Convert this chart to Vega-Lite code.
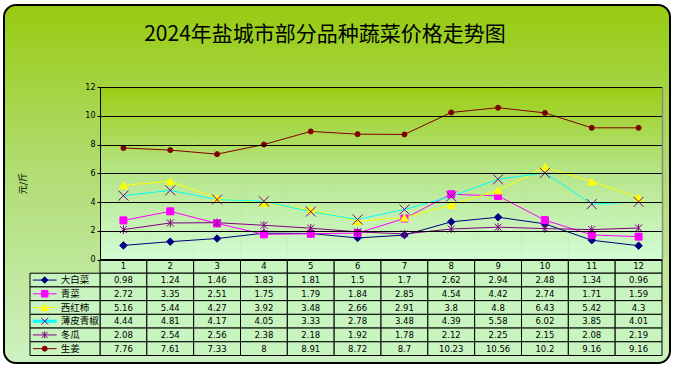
{
  "$schema": "https://vega.github.io/schema/vega-lite/v6.json",
  "width": 666,
  "height": 358,
  "autosize": {"type": "none"},
  "padding": {"left": 4, "top": 5, "right": 7, "bottom": 7},
  "background": "#ffffff",
  "view": {
    "fill": {"gradient": "linear", "x1": 0, "y1": 0, "x2": 0, "y2": 1,
      "stops": [{"offset": 0, "color": "#98cb10"}, {"offset": 0.45, "color": "#b0dc70"}, {"offset": 1, "color": "#cdf2c2"}]},
    "stroke": "#000000",
    "strokeWidth": 2,
    "cornerRadius": 12
  },
  "config": {"font": "Noto Sans CJK SC"},
  "title": {
    "text": "2024年盐城市部分品种蔬菜价格走势图",
    "font": "Noto Sans CJK SC",
    "fontSize": 21,
    "fontWeight": "normal",
    "color": "#000000",
    "anchor": "middle",
    "frame": "group",
    "orient": "top",
    "baseline": "middle",
    "offset": -51,
    "dx": -12
  },
  "datasets": {
    "months": [{"month": 1}, {"month": 2}, {"month": 3}, {"month": 4}, {"month": 5}, {"month": 6}, {"month": 7}, {"month": 8}, {"month": 9}, {"month": 10}, {"month": 11}, {"month": 12}],
    "series": [{"series": "大白菜"}, {"series": "青菜"}, {"series": "西红柿"}, {"series": "薄皮青椒"}, {"series": "冬瓜"}, {"series": "生姜"}],
    "vals": [
      {"series": "大白菜", "month": 1, "price": 0.98}, {"series": "大白菜", "month": 2, "price": 1.24}, {"series": "大白菜", "month": 3, "price": 1.46}, {"series": "大白菜", "month": 4, "price": 1.83}, {"series": "大白菜", "month": 5, "price": 1.81}, {"series": "大白菜", "month": 6, "price": 1.5}, {"series": "大白菜", "month": 7, "price": 1.7}, {"series": "大白菜", "month": 8, "price": 2.62}, {"series": "大白菜", "month": 9, "price": 2.94}, {"series": "大白菜", "month": 10, "price": 2.48}, {"series": "大白菜", "month": 11, "price": 1.34}, {"series": "大白菜", "month": 12, "price": 0.96},
      {"series": "青菜", "month": 1, "price": 2.72}, {"series": "青菜", "month": 2, "price": 3.35}, {"series": "青菜", "month": 3, "price": 2.51}, {"series": "青菜", "month": 4, "price": 1.75}, {"series": "青菜", "month": 5, "price": 1.79}, {"series": "青菜", "month": 6, "price": 1.84}, {"series": "青菜", "month": 7, "price": 2.85}, {"series": "青菜", "month": 8, "price": 4.54}, {"series": "青菜", "month": 9, "price": 4.42}, {"series": "青菜", "month": 10, "price": 2.74}, {"series": "青菜", "month": 11, "price": 1.71}, {"series": "青菜", "month": 12, "price": 1.59},
      {"series": "西红柿", "month": 1, "price": 5.16}, {"series": "西红柿", "month": 2, "price": 5.44}, {"series": "西红柿", "month": 3, "price": 4.27}, {"series": "西红柿", "month": 4, "price": 3.92}, {"series": "西红柿", "month": 5, "price": 3.48}, {"series": "西红柿", "month": 6, "price": 2.66}, {"series": "西红柿", "month": 7, "price": 2.91}, {"series": "西红柿", "month": 8, "price": 3.8}, {"series": "西红柿", "month": 9, "price": 4.8}, {"series": "西红柿", "month": 10, "price": 6.43}, {"series": "西红柿", "month": 11, "price": 5.42}, {"series": "西红柿", "month": 12, "price": 4.3},
      {"series": "薄皮青椒", "month": 1, "price": 4.44}, {"series": "薄皮青椒", "month": 2, "price": 4.81}, {"series": "薄皮青椒", "month": 3, "price": 4.17}, {"series": "薄皮青椒", "month": 4, "price": 4.05}, {"series": "薄皮青椒", "month": 5, "price": 3.33}, {"series": "薄皮青椒", "month": 6, "price": 2.78}, {"series": "薄皮青椒", "month": 7, "price": 3.48}, {"series": "薄皮青椒", "month": 8, "price": 4.39}, {"series": "薄皮青椒", "month": 9, "price": 5.58}, {"series": "薄皮青椒", "month": 10, "price": 6.02}, {"series": "薄皮青椒", "month": 11, "price": 3.85}, {"series": "薄皮青椒", "month": 12, "price": 4.01},
      {"series": "冬瓜", "month": 1, "price": 2.08}, {"series": "冬瓜", "month": 2, "price": 2.54}, {"series": "冬瓜", "month": 3, "price": 2.56}, {"series": "冬瓜", "month": 4, "price": 2.38}, {"series": "冬瓜", "month": 5, "price": 2.18}, {"series": "冬瓜", "month": 6, "price": 1.92}, {"series": "冬瓜", "month": 7, "price": 1.78}, {"series": "冬瓜", "month": 8, "price": 2.12}, {"series": "冬瓜", "month": 9, "price": 2.25}, {"series": "冬瓜", "month": 10, "price": 2.15}, {"series": "冬瓜", "month": 11, "price": 2.08}, {"series": "冬瓜", "month": 12, "price": 2.19},
      {"series": "生姜", "month": 1, "price": 7.76}, {"series": "生姜", "month": 2, "price": 7.61}, {"series": "生姜", "month": 3, "price": 7.33}, {"series": "生姜", "month": 4, "price": 8}, {"series": "生姜", "month": 5, "price": 8.91}, {"series": "生姜", "month": 6, "price": 8.72}, {"series": "生姜", "month": 7, "price": 8.7}, {"series": "生姜", "month": 8, "price": 10.23}, {"series": "生姜", "month": 9, "price": 10.56}, {"series": "生姜", "month": 10, "price": 10.2}, {"series": "生姜", "month": 11, "price": 9.16}, {"series": "生姜", "month": 12, "price": 9.16}
    ]
  },
  "resolve": {"scale": {"x": "independent", "y": "independent"}},
  "layer": [
    {
      "data": {"name": "months"},
      "mark": {"type": "rect", "strokeWidth": 0,
        "fill": {"gradient": "linear", "x1": 0, "y1": 0, "x2": 0, "y2": 1,
          "stops": [{"offset": 0, "color": "#9ccd12"}, {"offset": 0.5, "color": "#b6e58a"}, {"offset": 1, "color": "#d2fcd4"}]}},
      "encoding": {
        "x": {"field": "month", "type": "ordinal", "scale": {"type": "band", "domain": [1,2,3,4,5,6,7,8,9,10,11,12], "range": [96, 658], "paddingInner": 0, "paddingOuter": 0}, "axis": null},
        "y": {"datum": 12, "type": "quantitative", "scale": {"domain": [0, 12], "range": [254.5, 82], "nice": false, "zero": false}, "axis": null},
        "y2": {"datum": 0}
      }
    },
    {
      "data": {"name": "vals"},
      "mark": {"type": "line", "strokeWidth": 1},
      "encoding": {
        "x": {"field": "month", "type": "ordinal", "scale": {"type": "band", "domain": [1,2,3,4,5,6,7,8,9,10,11,12], "range": [96, 658], "paddingInner": 0, "paddingOuter": 0}, "axis": null},
        "y": {"field": "price", "type": "quantitative", "scale": {"domain": [0, 12], "range": [254.5, 82], "nice": false, "zero": false},
          "axis": {"values": [0,2,4,6,8,10,12], "offset": -96, "grid": true, "gridColor": "#000000", "gridOpacity": 1, "gridWidth": 1,
            "domainColor": "#000000", "domainWidth": 1, "tickColor": "#000000", "tickSize": 3, "tickWidth": 1,
            "labelColor": "#000000", "labelFont": "DejaVu Sans", "labelFontSize": 8, "labelPadding": 2,
            "title": "元/斤", "titleFont": "Noto Sans CJK SC", "titleFontSize": 9, "titleFontWeight": "normal", "titleColor": "#000000",
            "titleX": -78, "titleY": 178, "titleAngle": -90, "titleAlign": "center", "titleBaseline": "middle", "zindex": 1}},
        "color": {"field": "series", "type": "nominal", "scale": {"domain": ["大白菜", "青菜", "西红柿", "薄皮青椒", "冬瓜", "生姜"], "range": ["#000080", "#ff00ff", "#ffff00", "#00ffff", "#800080", "#800000"]}, "legend": null},
        "strokeWidth": {"condition": {"test": "datum.series === '薄皮青椒'", "value": 3}, "value": 1}
      }
    },
    {
      "data": {"name": "vals"},
      "mark": {"type": "point", "filled": true, "opacity": 1, "strokeWidth": 1},
      "encoding": {
        "x": {"field": "month", "type": "ordinal", "scale": {"type": "band", "domain": [1,2,3,4,5,6,7,8,9,10,11,12], "range": [96, 658], "paddingInner": 0, "paddingOuter": 0}, "axis": null},
        "y": {"field": "price", "type": "quantitative", "scale": {"domain": [0, 12], "range": [254.5, 82], "nice": false, "zero": false},
          "axis": {"orient": "right", "offset": -8, "values": [0, 12], "grid": false, "labels": false, "ticks": false, "title": null, "domainColor": "#8a8a8a", "domainWidth": 1.5, "zindex": 1}},
        "shape": {"field": "series", "type": "nominal", "scale": {"domain": ["大白菜", "青菜", "西红柿", "薄皮青椒", "冬瓜", "生姜"], "range": ["diamond", "square", "triangle-up", "M-1,-1L1,1M-1,1L1,-1", "M-1,-1L1,1M-1,1L1,-1M0,-1.2L0,1.2", "circle"]}, "legend": null},
        "fill": {"field": "series", "type": "nominal", "scale": {"domain": ["大白菜", "青菜", "西红柿", "薄皮青椒", "冬瓜", "生姜"], "range": ["#000080", "#ff00ff", "#ffff00", "#800080", "#800080", "#800000"]}, "legend": null},
        "stroke": {"field": "series", "type": "nominal", "scale": {"domain": ["大白菜", "青菜", "西红柿", "薄皮青椒", "冬瓜", "生姜"], "range": ["#000080", "#ff00ff", "#ffff00", "#800080", "#800080", "#800000"]}, "legend": null},
        "size": {"condition": [
          {"test": "datum.series === '大白菜'", "value": 56},
          {"test": "datum.series === '青菜'", "value": 49},
          {"test": "datum.series === '西红柿'", "value": 64},
          {"test": "datum.series === '薄皮青椒'", "value": 100},
          {"test": "datum.series === '冬瓜'", "value": 49}
        ], "value": 25}
      }
    },
    {
      "data": {"name": "months"},
      "mark": {"type": "rect", "fill": "#c8f4c0", "stroke": "#000000", "strokeWidth": 1},
      "encoding": {
        "x": {"field": "month", "type": "ordinal", "scale": {"type": "band", "domain": [1,2,3,4,5,6,7,8,9,10,11,12], "range": [96, 658], "paddingInner": 0, "paddingOuter": 0}, "axis": null},
        "y": {"datum": "hdr", "type": "nominal", "scale": {"type": "band", "domain": ["hdr", "大白菜", "青菜", "西红柿", "薄皮青椒", "冬瓜", "生姜"], "range": [254.5, 350.5], "paddingInner": 0, "paddingOuter": 0}, "axis": null}
      }
    },
    {
      "data": {"name": "months"},
      "mark": {"type": "text", "font": "DejaVu Sans", "fontSize": 8.5, "color": "#000000", "baseline": "middle", "align": "center"},
      "encoding": {
        "x": {"field": "month", "type": "ordinal", "scale": {"type": "band", "domain": [1,2,3,4,5,6,7,8,9,10,11,12], "range": [96, 658], "paddingInner": 0, "paddingOuter": 0}, "axis": null},
        "y": {"datum": "hdr", "type": "nominal", "scale": {"type": "band", "domain": ["hdr", "大白菜", "青菜", "西红柿", "薄皮青椒", "冬瓜", "生姜"], "range": [254.5, 350.5], "paddingInner": 0, "paddingOuter": 0}, "axis": null},
        "text": {"field": "month", "type": "nominal"}
      }
    },
    {
      "data": {"name": "vals"},
      "mark": {"type": "rect", "fill": "#c8f4c0", "stroke": "#000000", "strokeWidth": 1},
      "encoding": {
        "x": {"field": "month", "type": "ordinal", "scale": {"type": "band", "domain": [1,2,3,4,5,6,7,8,9,10,11,12], "range": [96, 658], "paddingInner": 0, "paddingOuter": 0}, "axis": null},
        "y": {"field": "series", "type": "nominal", "scale": {"type": "band", "domain": ["hdr", "大白菜", "青菜", "西红柿", "薄皮青椒", "冬瓜", "生姜"], "range": [254.5, 350.5], "paddingInner": 0, "paddingOuter": 0}, "axis": null}
      }
    },
    {
      "data": {"name": "vals"},
      "mark": {"type": "text", "font": "DejaVu Sans", "fontSize": 8.5, "color": "#000000", "baseline": "middle", "align": "center"},
      "encoding": {
        "x": {"field": "month", "type": "ordinal", "scale": {"type": "band", "domain": [1,2,3,4,5,6,7,8,9,10,11,12], "range": [96, 658], "paddingInner": 0, "paddingOuter": 0}, "axis": null},
        "y": {"field": "series", "type": "nominal", "scale": {"type": "band", "domain": ["hdr", "大白菜", "青菜", "西红柿", "薄皮青椒", "冬瓜", "生姜"], "range": [254.5, 350.5], "paddingInner": 0, "paddingOuter": 0}, "axis": null},
        "text": {"field": "price", "type": "nominal"}
      }
    },
    {
      "data": {"name": "series"},
      "mark": {"type": "rect", "fill": "#c8f4c0", "stroke": "#000000", "strokeWidth": 1},
      "encoding": {
        "x": {"datum": 0, "type": "quantitative", "scale": {"domain": [0, 1], "range": [26, 96], "nice": false, "zero": false}, "axis": null},
        "x2": {"datum": 1},
        "y": {"field": "series", "type": "nominal", "scale": {"type": "band", "domain": ["hdr", "大白菜", "青菜", "西红柿", "薄皮青椒", "冬瓜", "生姜"], "range": [254.5, 350.5], "paddingInner": 0, "paddingOuter": 0}, "axis": null}
      }
    },
    {
      "data": {"name": "series"},
      "mark": {"type": "rule"},
      "encoding": {
        "x": {"datum": 0.04, "type": "quantitative", "scale": {"domain": [0, 1], "range": [26, 96], "nice": false, "zero": false}, "axis": null},
        "x2": {"datum": 0.38},
        "y": {"field": "series", "type": "nominal", "scale": {"type": "band", "domain": ["hdr", "大白菜", "青菜", "西红柿", "薄皮青椒", "冬瓜", "生姜"], "range": [254.5, 350.5], "paddingInner": 0, "paddingOuter": 0}, "axis": null},
        "color": {"field": "series", "type": "nominal", "scale": {"domain": ["大白菜", "青菜", "西红柿", "薄皮青椒", "冬瓜", "生姜"], "range": ["#000080", "#ff00ff", "#ffff00", "#00ffff", "#800080", "#800000"]}, "legend": null},
        "strokeWidth": {"condition": {"test": "datum.series === '薄皮青椒'", "value": 3}, "value": 1}
      }
    },
    {
      "data": {"name": "series"},
      "mark": {"type": "point", "filled": true, "opacity": 1, "strokeWidth": 1},
      "encoding": {
        "x": {"datum": 0.21, "type": "quantitative", "scale": {"domain": [0, 1], "range": [26, 96], "nice": false, "zero": false}, "axis": null},
        "y": {"field": "series", "type": "nominal", "scale": {"type": "band", "domain": ["hdr", "大白菜", "青菜", "西红柿", "薄皮青椒", "冬瓜", "生姜"], "range": [254.5, 350.5], "paddingInner": 0, "paddingOuter": 0}, "axis": null},
        "shape": {"field": "series", "type": "nominal", "scale": {"domain": ["大白菜", "青菜", "西红柿", "薄皮青椒", "冬瓜", "生姜"], "range": ["diamond", "square", "triangle-up", "M-1,-1L1,1M-1,1L1,-1", "M-1,-1L1,1M-1,1L1,-1M0,-1.2L0,1.2", "circle"]}, "legend": null},
        "fill": {"field": "series", "type": "nominal", "scale": {"domain": ["大白菜", "青菜", "西红柿", "薄皮青椒", "冬瓜", "生姜"], "range": ["#000080", "#ff00ff", "#ffff00", "#800080", "#800080", "#800000"]}, "legend": null},
        "stroke": {"field": "series", "type": "nominal", "scale": {"domain": ["大白菜", "青菜", "西红柿", "薄皮青椒", "冬瓜", "生姜"], "range": ["#000080", "#ff00ff", "#ffff00", "#800080", "#800080", "#800000"]}, "legend": null},
        "size": {"condition": [
          {"test": "datum.series === '大白菜'", "value": 42},
          {"test": "datum.series === '青菜'", "value": 42},
          {"test": "datum.series === '西红柿'", "value": 56},
          {"test": "datum.series === '薄皮青椒'", "value": 49},
          {"test": "datum.series === '冬瓜'", "value": 36}
        ], "value": 25}
      }
    },
    {
      "data": {"name": "series"},
      "mark": {"type": "text", "font": "Noto Sans CJK SC", "fontSize": 9.5, "color": "#000000", "align": "left", "baseline": "middle"},
      "encoding": {
        "x": {"datum": 0.44, "type": "quantitative", "scale": {"domain": [0, 1], "range": [26, 96], "nice": false, "zero": false}, "axis": null},
        "y": {"field": "series", "type": "nominal", "scale": {"type": "band", "domain": ["hdr", "大白菜", "青菜", "西红柿", "薄皮青椒", "冬瓜", "生姜"], "range": [254.5, 350.5], "paddingInner": 0, "paddingOuter": 0}, "axis": null},
        "text": {"field": "series", "type": "nominal"}
      }
    }
  ]
}
